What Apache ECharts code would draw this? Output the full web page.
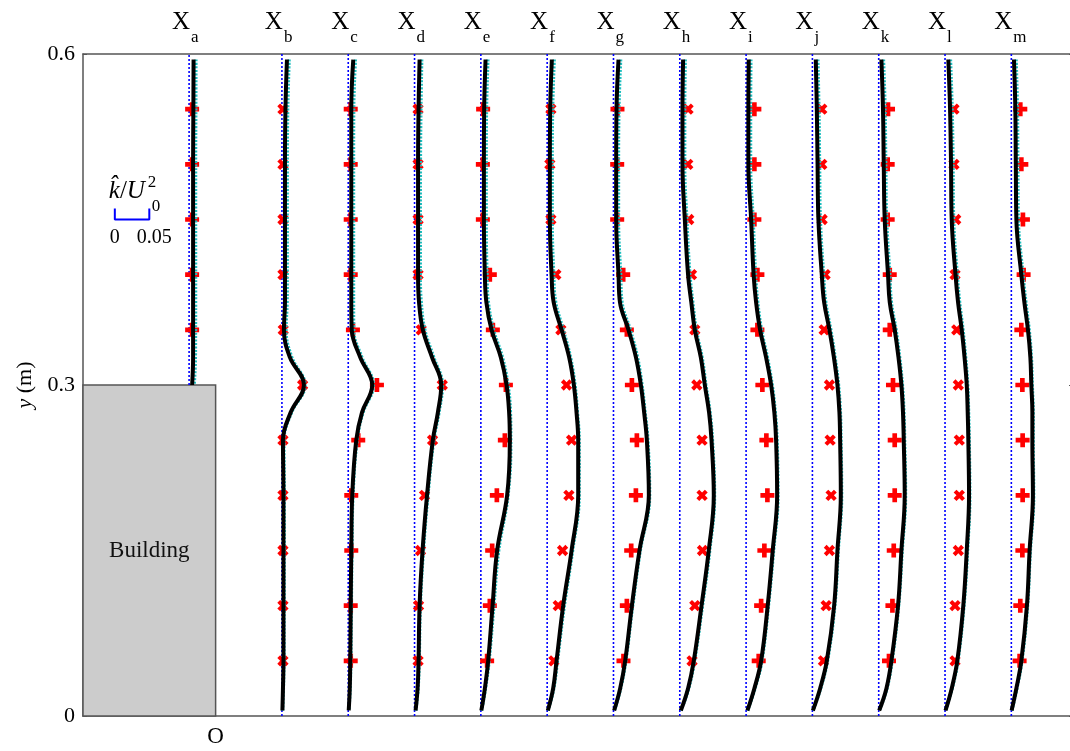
<!DOCTYPE html>
<html>
<head>
<meta charset="utf-8">
<script src="https://cdn.jsdelivr.net/npm/echarts@6/dist/echarts.min.js"></script>
<style>
  html, body { margin: 0; padding: 0; background: #fff; overflow: hidden; }
  #chart { width: 1076px; height: 751px; }
</style>
</head>
<body>
<div id="chart"></div>
<script>
// ---------------- DATA ----------------
const STATIONS = ['a','b','c','d','e','f','g','h','i','j','k','l','m'];
const STATION_X = [-0.4, 1, 2, 3, 4, 5, 6, 7, 8, 9, 10, 11, 12];   // horizontal station positions
const MARKER_TYPES = ['+','x','+','x','+','x','+','x','+','x','+','x','+'];
const BUILDING_LEFT = -2, BUILDING_RIGHT = 0, BUILDING_H = 0.3;
const Y_TICKS = [0, 0.3, 0.6];
const K_SCALE = 10.4;            // x-axis units per unit of k/U0^2
const SCALE_BAR_K = 0.05;        // scale bar length (k/U0^2)
const SCALE_BAR_X0 = -1.52, SCALE_BAR_Y = 0.45, SCALE_BAR_TICK = 0.01;

// heights (m) of profile points
const PROFILE_Y = [0.595, 0.55, 0.5, 0.45, 0.4, 0.375, 0.35, 0.325, 0.3, 0.275, 0.25, 0.2, 0.15, 0.1, 0.05, 0.025, 0.005];
// heights (m) of measured points
const MARKER_Y = [0.55, 0.5, 0.45, 0.4, 0.35, 0.3, 0.25, 0.2, 0.15, 0.1, 0.05];

// k/U0^2 values in units of 1e-3, one row per station
const K_BLACK = [
  [6.5, 6.2, 5.8, 5.8, 5.8, 5.8, 5.8, 5.8, 4.4],
  [7.3, 5.1, 4.4, 4.4, 4.4, 4.4, 2.9, 11.6, 31.9, 12.6, 1.5, 2.2, 2.2, 2.2, 2.2, 1.5, 0.7],
  [7.3, 4.4, 4.4, 4.4, 4.4, 4.4, 5.1, 17.4, 34.8, 19.9, 11.6, 5.8, 4.4, 3.6, 2.9, 2.2, 0.7],
  [7.3, 5.8, 5.1, 5.1, 5.1, 6.5, 12.0, 25.4, 38.7, 33.8, 26.5, 18.1, 11.6, 7.3, 5.8, 4.4, 1.5],
  [6.8, 4.8, 4.4, 4.4, 5.8, 8.0, 15.5, 29.0, 37.3, 41.0, 42.0, 38.1, 23.6, 17.0, 10.6, 5.8, 0.7],
  [6.8, 4.4, 3.9, 3.9, 6.4, 9.4, 20.9, 31.9, 38.7, 42.6, 45.0, 45.0, 35.4, 23.2, 13.6, 8.7, 1.0],
  [7.3, 4.4, 3.9, 3.9, 7.3, 9.4, 21.8, 32.6, 39.7, 44.5, 48.4, 51.3, 37.7, 26.7, 17.0, 9.7, 1.0],
  [4.8, 3.9, 3.9, 7.3, 12.0, 16.7, 21.8, 30.5, 36.3, 42.5, 46.0, 49.3, 42.0, 31.5, 20.3, 12.0, 1.5],
  [3.8, 3.3, 3.3, 7.3, 10.9, 14.5, 20.3, 29.0, 36.3, 41.0, 43.5, 45.0, 38.6, 31.3, 21.8, 12.0, 1.9],
  [4.9, 6.4, 7.5, 8.7, 13.6, 17.0, 24.7, 31.2, 36.3, 39.2, 40.2, 41.2, 36.3, 31.5, 20.9, 11.2, 0.7],
  [3.9, 6.2, 7.3, 8.7, 13.5, 16.0, 23.2, 28.7, 32.9, 35.2, 36.3, 37.7, 32.9, 28.0, 18.4, 11.2, 0.7],
  [4.8, 7.3, 8.7, 9.7, 15.2, 18.9, 24.2, 28.3, 31.5, 32.9, 33.8, 34.8, 31.5, 26.5, 17.8, 9.7, 0.7],
  [3.8, 5.8, 6.5, 7.3, 14.5, 18.9, 24.1, 27.6, 29.0, 30.5, 30.5, 31.3, 26.5, 22.6, 14.5, 7.3, 0.4]
];
const K_CYAN = [
  [10.0, 9.8, 9.5, 9.5, 9.5, 9.5, 9.4, 9.2, 7.5],
  [10.5, 8.5, 7.8, 7.8, 7.8, 7.6, 6.0, 14.5, 33.5, 14.0, 3.0, 3.5, 3.5, 3.3, 3.0, 2.2, 1.0],
  [10.5, 8.0, 7.8, 7.8, 7.8, 7.8, 8.0, 20.0, 36.5, 21.5, 13.0, 7.0, 5.5, 4.6, 3.8, 2.8, 1.0],
  [10.5, 9.3, 8.6, 8.5, 8.5, 9.8, 15.0, 28.0, 40.5, 35.5, 28.0, 19.5, 13.0, 8.5, 6.8, 5.2, 1.8],
  [10.3, 8.3, 7.8, 7.8, 9.0, 11.0, 18.5, 31.5, 39.5, 43.0, 43.5, 39.5, 26.0, 19.0, 12.0, 6.8, 1.0],
  [10.3, 8.0, 7.4, 7.4, 9.6, 12.5, 23.5, 34.0, 40.5, 44.0, 46.5, 46.5, 37.0, 25.0, 15.0, 9.7, 1.3],
  [10.5, 8.0, 7.4, 7.4, 10.5, 12.5, 24.5, 35.0, 41.5, 46.0, 50.0, 52.5, 39.0, 28.0, 18.0, 10.5, 1.3],
  [8.0, 7.2, 7.2, 10.3, 14.8, 19.0, 24.0, 32.5, 38.0, 44.0, 47.5, 50.5, 43.5, 33.0, 21.5, 13.0, 1.8],
  [7.0, 6.6, 6.6, 10.3, 13.8, 17.0, 22.5, 31.0, 38.0, 42.5, 45.0, 46.3, 40.0, 32.5, 23.0, 13.0, 2.2],
  [8.0, 9.5, 10.5, 11.6, 16.3, 19.5, 26.8, 33.0, 38.0, 40.7, 41.6, 42.5, 37.6, 32.6, 22.0, 12.0, 1.0],
  [7.0, 9.3, 10.3, 11.6, 16.2, 18.5, 25.3, 30.5, 34.5, 36.7, 37.7, 39.0, 34.2, 29.0, 19.5, 12.0, 1.0],
  [8.0, 10.4, 11.7, 12.6, 17.8, 21.3, 26.2, 30.0, 33.0, 34.3, 35.2, 36.0, 32.8, 27.6, 18.8, 10.5, 1.0],
  [7.0, 8.9, 9.5, 10.2, 17.0, 21.2, 26.0, 29.2, 30.5, 31.8, 31.8, 32.5, 27.7, 23.6, 15.5, 8.2, 0.7]
];
const K_MEASURED = [
  [4.4, 4.4, 4.4, 4.4, 4.4],
  [1.5, 1.5, 1.5, 1.5, 1.9, 30.0, 1.5, 1.5, 1.5, 1.5, 1.5],
  [3.6, 3.6, 3.6, 3.6, 6.8, 41.6, 14.5, 4.4, 4.4, 3.6, 3.6],
  [5.1, 5.1, 5.1, 5.1, 9.7, 40.2, 26.1, 14.5, 8.7, 5.8, 5.1],
  [3.3, 2.9, 2.9, 13.0, 17.4, 36.3, 34.8, 23.2, 16.4, 13.0, 9.1],
  [5.4, 3.9, 5.4, 12.6, 19.9, 28.1, 35.4, 31.5, 22.3, 16.0, 9.7],
  [5.8, 5.4, 5.4, 14.1, 19.4, 26.7, 33.9, 32.5, 25.7, 19.4, 14.5],
  [12.0, 11.6, 13.0, 17.0, 21.8, 24.7, 32.3, 32.3, 32.9, 21.8, 17.8],
  [12.0, 12.0, 12.0, 16.4, 16.4, 23.6, 29.4, 30.9, 26.5, 21.8, 18.3],
  [13.6, 13.6, 14.1, 18.4, 17.0, 24.7, 25.7, 27.1, 24.7, 19.9, 16.0],
  [13.5, 13.0, 13.0, 16.0, 16.0, 20.7, 23.2, 23.2, 21.8, 19.9, 14.9],
  [13.0, 13.0, 15.5, 14.5, 17.0, 19.3, 20.7, 20.7, 19.3, 14.5, 14.5],
  [13.0, 14.5, 16.8, 17.8, 14.5, 16.0, 16.4, 16.4, 16.0, 13.0, 12.0]
];

// ---------------- CHART ----------------
const FONT = '"Liberation Serif", "Times New Roman", serif';
const AXIS_COLOR = '#555';
const PLUS_PATH = 'path://M4,0H8V4H12V8H8V12H4V8H0V4H4Z';

const chart = echarts.init(document.getElementById('chart'), null, { renderer: 'canvas' });

function toXY(station, kArr, yArr) {
  return kArr.map((k, j) => [station + k / 1000 * K_SCALE, yArr[j]]);
}

const series = [];

series.push({
  type: 'custom',
  z: 1,
  silent: true,
  encode: { x: [0, 2], y: [1, 3] },
  data: [[BUILDING_LEFT, 0, BUILDING_RIGHT, BUILDING_H]],
  renderItem: function (params, api) {
    const p0 = api.coord([api.value(0), api.value(3)]);
    const p1 = api.coord([api.value(2), api.value(1)]);
    return {
      type: 'rect',
      shape: { x: p0[0], y: p0[1], width: p1[0] - p0[0], height: p1[1] - p0[1] },
      style: { fill: '#cccccc', stroke: AXIS_COLOR, lineWidth: 1.5 },
      textContent: { style: { text: 'Building', fontFamily: FONT, fontSize: 23, fill: '#111' } },
      textConfig: { position: 'inside' }
    };
  }
});

STATIONS.forEach((name, i) => {
  const s = STATION_X[i];
  const base = (s < BUILDING_RIGHT) ? BUILDING_H : 0;
  series.push({
    type: 'line', z: 2, silent: true, symbol: 'none',
    data: [[s, base], [s, 0.6]],
    lineStyle: { color: '#0000ff', width: 1.6, type: [2, 2] }
  });
  series.push({
    type: 'scatter', z: 3, silent: true,
    data: toXY(s, K_MEASURED[i], MARKER_Y),
    symbol: PLUS_PATH,
    symbolSize: MARKER_TYPES[i] === '+' ? 14 : 12,
    symbolRotate: MARKER_TYPES[i] === '+' ? 0 : 45,
    itemStyle: { color: '#ff0000', opacity: 1 }
  });
  series.push({
    type: 'line', z: 4, silent: true, symbol: 'none', smooth: 0.4,
    data: toXY(s, K_CYAN[i], PROFILE_Y),
    lineStyle: { color: '#1fbfbf', width: 3.2, type: [2, 1.5] }
  });
  series.push({
    type: 'line', z: 5, silent: true, symbol: 'none', smooth: 0.4,
    data: toXY(s, K_BLACK[i], PROFILE_Y),
    lineStyle: { color: '#000000', width: 4 }
  });
});

// scale bar
const barEnd = SCALE_BAR_X0 + SCALE_BAR_K * K_SCALE;
series.push({
  type: 'line', z: 5, silent: true, symbol: 'none',
  data: [[SCALE_BAR_X0, SCALE_BAR_Y + SCALE_BAR_TICK], [SCALE_BAR_X0, SCALE_BAR_Y],
         [barEnd, SCALE_BAR_Y], [barEnd, SCALE_BAR_Y + SCALE_BAR_TICK]],
  lineStyle: { color: '#0000ff', width: 2 }
});

const xCommon = {
  type: 'value', min: -2, max: 12.93,
  axisLine: { show: true, onZero: false, lineStyle: { color: AXIS_COLOR, width: 1.5 } },
  axisTick: { show: false },
  splitLine: { show: false }
};
const yCommon = {
  type: 'value', min: 0, max: 0.6, interval: 0.3,
  axisLine: { show: true, onZero: false, lineStyle: { color: AXIS_COLOR, width: 1.5 } },
  axisTick: { show: true, inside: true, length: 4, lineStyle: { color: AXIS_COLOR } },
  splitLine: { show: false }
};

chart.setOption({
  animation: false,
  backgroundColor: '#ffffff',
  textStyle: { fontFamily: FONT },
  grid: { left: 83, top: 54, width: 990, height: 662 },
  xAxis: [
    Object.assign({}, xCommon, {
      position: 'bottom',
      axisLabel: {
        show: true, customValues: [0], formatter: () => 'O',
        fontFamily: FONT, fontSize: 23, color: '#000', margin: 9
      }
    }),
    Object.assign({}, xCommon, { position: 'top', axisLabel: { show: false } })
  ],
  yAxis: [
    Object.assign({}, yCommon, {
      position: 'left',
      axisLabel: {
        fontFamily: FONT, fontSize: 22, color: '#000', margin: 8,
        formatter: v => (v === 0 ? '0' : v.toFixed(1))
      },
      name: '{i|y} (m)',
      nameLocation: 'middle', nameRotate: 90, nameGap: 46,
      nameTextStyle: {
        fontFamily: FONT, fontSize: 22, color: '#000',
        rich: { i: { fontFamily: FONT, fontSize: 22, fontStyle: 'italic', color: '#000' } }
      }
    }),
    Object.assign({}, yCommon, { position: 'right', axisLabel: { show: false } })
  ],
  series: series
});

// ---- text annotations placed through the axes' own scales ----
const gfx = [];
const topY = chart.convertToPixel({ xAxisIndex: 0, yAxisIndex: 0 }, [0, 0.6])[1];
STATIONS.forEach((name, i) => {
  const px = chart.convertToPixel({ xAxisIndex: 0, yAxisIndex: 0 }, [STATION_X[i], 0.6])[0];
  gfx.push({
    type: 'text', x: px + 1, y: topY - 32,
    style: { text: 'X', fontFamily: FONT, fontSize: 25, fill: '#000',
             align: 'right', verticalAlign: 'middle', textAlign: 'right', textVerticalAlign: 'middle' }
  });
  gfx.push({
    type: 'text', x: px + 2, y: topY - 16,
    style: { text: name, fontFamily: FONT, fontSize: 17, fill: '#000',
             align: 'left', verticalAlign: 'middle', textAlign: 'left', textVerticalAlign: 'middle' }
  });
});
const b0 = chart.convertToPixel({ xAxisIndex: 0, yAxisIndex: 0 }, [SCALE_BAR_X0, SCALE_BAR_Y]);
const b1 = chart.convertToPixel({ xAxisIndex: 0, yAxisIndex: 0 }, [barEnd, SCALE_BAR_Y]);
gfx.push({
  type: 'text', x: b0[0] - 6, y: b0[1] - 28,
  style: {
    text: '{i|k\u0302}/{i|U}', fontFamily: FONT, fontSize: 25, fill: '#000',
    align: 'left', verticalAlign: 'middle', textAlign: 'left', textVerticalAlign: 'middle',
    rich: { i: { fontFamily: FONT, fontSize: 25, fontStyle: 'italic', fill: '#000', color: '#000' } }
  }
});
gfx.push({
  type: 'text', x: b0[0] + 33, y: b0[1] - 37,
  style: { text: '2', fontFamily: FONT, fontSize: 17, fill: '#000',
           align: 'left', verticalAlign: 'middle', textAlign: 'left', textVerticalAlign: 'middle' }
});
gfx.push({
  type: 'text', x: b0[0] + 37, y: b0[1] - 13,
  style: { text: '0', fontFamily: FONT, fontSize: 17, fill: '#000',
           align: 'left', verticalAlign: 'middle', textAlign: 'left', textVerticalAlign: 'middle' }
});
gfx.push({
  type: 'text', x: b0[0], y: b0[1] + 18,
  style: { text: '0', fontFamily: FONT, fontSize: 20, fill: '#000',
           align: 'center', verticalAlign: 'middle', textAlign: 'center', textVerticalAlign: 'middle' }
});
gfx.push({
  type: 'text', x: b1[0] + 5, y: b1[1] + 18,
  style: { text: '0.05', fontFamily: FONT, fontSize: 20, fill: '#000',
           align: 'center', verticalAlign: 'middle', textAlign: 'center', textVerticalAlign: 'middle' }
});
chart.setOption({ graphic: { elements: gfx } });
</script>
</body>
</html>
